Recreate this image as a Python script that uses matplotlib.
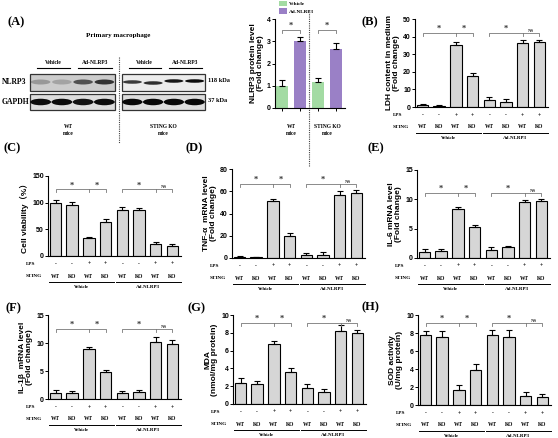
import matplotlib
matplotlib.use('Agg')
import matplotlib.pyplot as plt
import matplotlib.transforms as mtrans
from matplotlib.patches import Ellipse, Rectangle, Patch
import numpy as np

# ---- data ----
lanes = ['Vehicle', 'Vehicle', 'Ad-NLRP3', 'Ad-NLRP3']
wt_nlrp3_band = [0.25, 0.2, 0.6, 0.75]
wt_gapdh_band = [0.95, 0.95, 0.92, 0.95]
ko_nlrp3_band = [0.75, 0.8, 0.9, 0.95]
ko_gapdh_band = [0.97, 0.97, 0.97, 0.97]

a_groups = ['WT\nmice', 'STING KO\nmice']
a_vals = [1.0, 3.02, 1.17, 2.63]
a_errs = [0.27, 0.17, 0.17, 0.28]

lps = ['-', '-', '+', '+', '-', '-', '+', '+']
sting = ['WT', 'KO', 'WT', 'KO', 'WT', 'KO', 'WT', 'KO']
groups = ['Vehicle', 'Ad-NLRP3']

ldh = [1.0, 0.8, 35.5, 17.5, 4.0, 3.0, 36.5, 37.0]
ldh_err = [0.6, 0.5, 1.5, 1.8, 1.4, 1.3, 1.5, 1.2]
viab = [100, 96, 33, 63, 86, 86, 22, 19]
viab_err = [5, 5, 3, 7, 6, 4, 4, 4]
tnf = [1.0, 0.6, 51, 20, 2.5, 3.0, 57, 58.5]
tnf_err = [0.6, 0.6, 2, 2.2, 2.2, 2, 3.2, 2.5]
il6 = [1.0, 1.2, 8.3, 5.3, 1.4, 1.8, 9.5, 9.8]
il6_err = [0.5, 0.4, 0.4, 0.3, 0.5, 0.3, 0.4, 0.3]
il1b = [1.0, 1.1, 9.0, 4.8, 1.0, 1.2, 10.2, 9.9]
il1b_err = [0.55, 0.4, 0.3, 0.3, 0.35, 0.35, 0.85, 0.55]
mda = [2.4, 2.2, 6.75, 3.65, 1.8, 1.35, 8.2, 8.0]
mda_err = [0.55, 0.4, 0.35, 0.4, 0.4, 0.3, 0.65, 0.3]
sod = [7.8, 7.6, 1.7, 3.9, 7.8, 7.55, 0.95, 0.9]
sod_err = [0.4, 0.6, 0.5, 0.7, 0.55, 0.8, 0.5, 0.3]

W, H = 558, 438
fig = plt.figure(figsize=(W / 100, H / 100), dpi=100)
SERIF = 'Liberation Serif'
SANS = 'Liberation Sans'
GRAY = '#d6d6d6'
GREEN = '#a3dba3'
PURPLE = '#9a80c6'
STEP = 16.7  # px between bars


def rect(x0, y0, x1, y1):
    return [x0 / W, 1 - y1 / H, (x1 - x0) / W, (y1 - y0) / H]


def style(ax, ylim, yticks, ylabel, family=None):
    ax.set_ylim(*ylim)
    ax.set_yticks(yticks)
    ax.spines['top'].set_visible(False)
    ax.spines['right'].set_visible(False)
    for s in ('left', 'bottom'):
        ax.spines[s].set_linewidth(0.8)
    ax.tick_params(axis='y', length=2, width=0.7, pad=1, labelsize=5)
    for t in ax.get_yticklabels():
        t.set_fontfamily(SANS)
        t.set_fontweight('bold')
    ax.set_ylabel(ylabel, fontsize=6, fontweight='bold',
                  family=family or SANS, labelpad=2, linespacing=1.0)
    ax.patch.set_alpha(0)


def off(ax, dy):
    return mtrans.offset_copy(ax.get_xaxis_transform(), fig=fig, y=-dy, units='dots')


def bracket(ax, x0, xm, x1, y, tick, labels, color='#777777'):
    ax.plot([x0, x0, x1, x1], [y - tick, y, y, y - tick], color=color, lw=0.6, clip_on=False)
    if xm is not None:
        ax.plot([xm, xm], [y, y - tick], color=color, lw=0.6, clip_on=False)
    for xs, s in labels:
        fs = 6 if s == '*' else 3.5
        ax.text(xs, y, s, ha='center', va='bottom', fontsize=fs,
                family=SERIF, fontweight='bold', color='#333333')


def bar_panel(x0, y0, y1, vals, errs, ylim, yticks, ylabel, sig_y, family=None):
    ax = fig.add_axes(rect(x0, y0, x0 + 7.95 * STEP, y1))
    x = np.arange(len(vals))
    ax.bar(x, vals, width=0.69, color=GRAY, edgecolor='black', linewidth=0.8,
           yerr=[np.zeros(len(errs)), errs],
           error_kw=dict(ecolor='black', elinewidth=0.8, capsize=2.2, capthick=0.8))
    ax.set_xlim(-0.45, 7.5)
    ax.set_xticks([])
    style(ax, ylim, yticks, ylabel, family)
    tick = (ylim[1] - ylim[0]) * 3.0 / (y1 - y0)
    bracket(ax, 0, 2, 3, sig_y, tick, [(1, '*'), (2.5, '*')])
    bracket(ax, 4, 6, 7, sig_y, tick, [(5, '*'), (6.5, 'NS')])
    for i in x:
        ax.text(i, 0, lps[i], transform=off(ax, 8), ha='center', va='center',
                fontsize=4, family=SERIF, fontweight='bold')
        ax.text(i, 0, sting[i], transform=off(ax, 20), ha='center', va='center',
                fontsize=4, family=SERIF, fontweight='bold')
    ax.text(-0.45, 0, 'LPS', transform=mtrans.offset_copy(off(ax, 8), fig=fig, x=-22, units='dots'),
            ha='left', va='center', fontsize=3.8, family=SERIF, fontweight='bold')
    ax.text(-0.45, 0, 'STING', transform=mtrans.offset_copy(off(ax, 20), fig=fig, x=-22, units='dots'),
            ha='left', va='center', fontsize=3.8, family=SERIF, fontweight='bold')
    for (a, b), g in zip([(-0.4, 3.5), (3.6, 7.5)], groups):
        ax.plot([a, b], [0, 0], color='black', lw=0.7, clip_on=False, transform=off(ax, 26))
        ax.text((a + b) / 2, 0, g, transform=off(ax, 31), ha='center', va='center',
                fontsize=3.6, family=SERIF, fontweight='bold')
    return ax


# ---- (A) blot, drawn in a pixel-space overlay ----
ov = fig.add_axes([0, 0, 1, 1])
ov.set_xlim(0, W)
ov.set_ylim(H, 0)
ov.axis('off')
ov.set_zorder(5)
ov.patch.set_alpha(0)


def serif(x, y, s, fs, ha='center', **kw):
    ov.text(x, y, s, ha=ha, va='center', fontsize=fs, family=SERIF, fontweight='bold', **kw)


serif(7, 22, '(A)', 9, ha='left')
serif(118, 35, 'Primary macrophage', 5)

blots = [(30, 115, wt_nlrp3_band, wt_gapdh_band, '#cccccc', 82),
         (122, 205, ko_nlrp3_band, ko_gapdh_band, '#ececec', 81)]
for bx0, bx1, nl, gp, bg, ny in blots:
    lw_ = (bx1 - bx0) / 4
    ov.add_patch(Rectangle((bx0, 74), bx1 - bx0, 17, facecolor=bg, edgecolor='#333333', lw=0.9))
    ov.add_patch(Rectangle((bx0, 94), bx1 - bx0, 16, facecolor='#dddddd', edgecolor='#333333', lw=0.9))
    for i in range(4):
        cx = bx0 + lw_ * (i + 0.5)
        h = 5 if bx0 < 100 else 3.5
        yy = ny + (2 if (bx0 > 100 and i < 2) else 0) - (1 if i == 0 and bx0 > 100 else 0)
        ov.add_patch(Ellipse((cx, yy), lw_ * 0.92, h, facecolor='black', alpha=nl[i], lw=0))
        ov.add_patch(Ellipse((cx, 102), lw_ * 0.98, 6.5, facecolor='black', alpha=gp[i], lw=0))
    for j, g in enumerate(['Vehicle', 'Ad-NLRP3']):
        gx0 = bx0 + 7 + j * 2 * lw_ - (2 if j else 0)
        gx1 = bx0 + 2 * lw_ * (j + 1) - 3
        serif((gx0 + gx1) / 2, 62, g, 4)
        ov.plot([gx0, gx1], [68, 68], color='black', lw=0.8)

serif(2, 82, 'NLRP3', 5.5, ha='left')
serif(2, 102, 'GAPDH', 5.5, ha='left')
serif(208, 80, '118 kDa', 4.5, ha='left')
serif(208, 100, '37 kDa', 4.5, ha='left')
serif(68, 130, 'WT\nmice', 4, linespacing=1.6)
serif(163, 130, 'STING KO\nmice', 4, linespacing=1.6)
ov.plot([119, 119], [57, 143], color='#444444', lw=0.8, ls=(0, (1, 1)))

# ---- (A) quantification ----
axa = fig.add_axes(rect(275, 19, 345, 108))
xa = np.arange(4)
bars = axa.bar(xa, a_vals, width=0.67, color=[GREEN, PURPLE, GREEN, PURPLE],
               edgecolor='none', yerr=[np.zeros(4), a_errs],
               error_kw=dict(ecolor='black', elinewidth=0.8, capsize=2.2, capthick=0.8))
axa.set_xlim(-0.4, 3.5)
axa.set_xticks(xa)
axa.tick_params(axis='x', length=2, width=0.7, labelbottom=False)
style(axa, (0, 4), [0, 1, 2, 3, 4], 'NLRP3 protein level\n(Fold change)')
ta = 4 * 3.0 / 89
bracket(axa, 0, None, 1, 3.5, ta, [(0.5, '*')])
bracket(axa, 2, None, 3, 3.5, ta, [(2.5, '*')])
axa.plot([1.5, 1.5], [-2.6, 4.3], color='#444444', lw=0.8, ls=(0, (1, 1)), clip_on=False)
for cx, g in zip([0.5, 2.5], a_groups):
    axa.text(cx, 0, g, transform=off(axa, 22), ha='center', va='center', fontsize=4,
             family=SERIF, fontweight='bold', linespacing=1.6)
fig.legend([Patch(facecolor=GREEN), Patch(facecolor=PURPLE)], ['Vehicle', 'Ad-NLRP3'],
           loc='upper left', bbox_to_anchor=(278 / W, 1.0), frameon=False,
           handlelength=1.6, handleheight=1.3, handletextpad=0.4, labelspacing=0.35,
           prop=dict(family=SERIF, weight='bold', size=3.8), borderaxespad=0, borderpad=0.1)

# ---- (B)-(H) ----
serif(362, 22, '(B)', 9, ha='left')
bar_panel(415, 19, 107, ldh, ldh_err, (0, 50), [0, 10, 20, 30, 40, 50],
          'LDH content in medium\n(Fold change)', 42)
serif(3, 148, '(C)', 9, ha='left')
bar_panel(48, 176, 256, viab, viab_err, (0, 150), [0, 50, 100, 150],
          'Cell viability\uff08%\uff09', 125, family=[SANS, 'Noto Sans CJK SC'])
serif(185, 148, '(D)', 9, ha='left')
bar_panel(232, 169, 258, tnf, tnf_err, (0, 80), [0, 20, 40, 60, 80],
          'TNF-\u03b1  mRNA level\n(Fold change)', 66.5)
serif(367, 148, '(E)', 9, ha='left')
bar_panel(417, 170, 258, il6, il6_err, (0, 15), [0, 5, 10, 15],
          'IL-6 mRNA level\n(Fold change)', 11.1)
serif(5, 308, '(F)', 9, ha='left')
bar_panel(48, 315, 399, il1b, il1b_err, (0, 15), [0, 5, 10, 15],
          'IL-1\u03b2  mRNA level\n(Fold change)', 12.5)
serif(187, 308, '(G)', 9, ha='left')
bar_panel(233, 315, 404, mda, mda_err, (0, 10), [0, 2, 4, 6, 8, 10],
          'MDA\n(nmol/mg protein)', 9.1)
serif(362, 307, '(H)', 9, ha='left')
bar_panel(418, 315, 405, sod, sod_err, (0, 10), [0, 2, 4, 6, 8, 10],
          'SOD activity\n(U/mg protein)', 9.1)

fig.savefig('out.png', dpi=100)
